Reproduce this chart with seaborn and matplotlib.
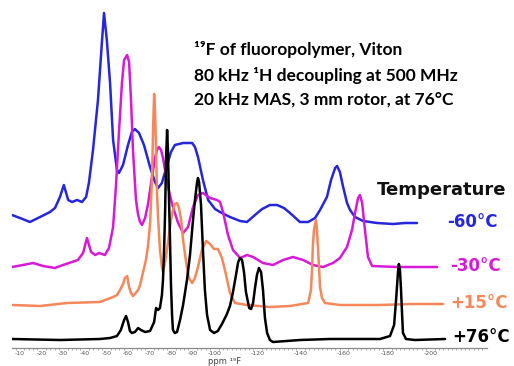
import numpy as np
import pandas as pd
import matplotlib
matplotlib.use("Agg")
import matplotlib.pyplot as plt
import seaborn as sns

# chemical shift (ppm, as labelled on the axis) and intensity above each trace's baseline
blue_ppm = [-6.3, -10.0, -14.6, -19.3, -23.9, -26.2, -28.5, -30.3, -32.3, -34.1, -36.4, -38.7,
            -40.6, -41.9, -43.8, -46.1, -48.0, -48.9, -50.2, -51.7, -53.1, -54.9, -55.8, -57.7,
            -60.0, -61.8, -63.2, -65.1, -67.4, -70.2, -72.5, -73.9, -75.7, -78.1, -79.9, -81.7,
            -85.5, -89.7, -91.0, -92.4, -94.7, -97.1, -100.3, -102.6, -107.2, -111.9, -115.1,
            -118.8, -122.1, -125.7, -129.0, -132.2, -135.0, -139.6, -143.4, -146.6, -148.9, -152.1,
            -154.0, -155.9, -156.8, -158.1, -159.5, -161.4, -162.8, -165.1, -168.8, -175.3, -182.7,
            -188.3, -193.8]
blue_int = [8, 5, 1, 6, 11, 15, 26, 38, 23, 21, 23, 21,
            26, 40, 73, 123, 183, 210, 183, 140, 83, 53, 50, 58,
            78, 91, 94, 90, 78, 56, 41, 35, 40, 58, 71, 78,
            80, 80, 76, 66, 43, 23, 14, 11, 6, 2, 1,
            8, 14, 18, 18, 15, 10, 1, 1, 5, 13, 26,
            43, 55, 57, 51, 37, 20, 13, 6, 2, 0, -1,
            0, 0]

magenta_ppm = [-6.3, -11.4, -16.0, -20.7, -26.2, -29.9, -34.1, -36.8, -39.2, -41.0, -42.9, -44.8,
               -46.6, -49.3, -51.2, -53.1, -54.4, -55.8, -57.2, -58.2, -59.6, -60.5, -61.4, -62.3,
               -63.7, -64.7, -65.6, -66.5, -67.9, -69.2, -71.1, -72.5, -73.4, -74.3, -75.3, -76.2,
               -78.5, -80.8, -83.2, -85.5, -87.8, -90.1, -92.4, -94.7, -98.0, -101.2, -102.6,
               -104.0, -106.3, -108.6, -111.9, -115.1, -117.9, -122.5, -127.1, -131.8, -136.4, -141.1,
               -145.6, -150.3, -154.9, -158.1, -161.4, -163.7, -165.1, -166.5, -167.4, -168.4, -169.7,
               -171.1, -173.0, -184.5, -195.2, -203.1]
magenta_int = [0, 2, 4, 1, -1, 2, 5, 7, 14, 29, 15, 12,
               14, 12, 19, 40, 80, 134, 184, 207, 212, 205, 167, 117,
               67, 52, 45, 42, 49, 62, 90, 109, 117, 120, 117, 109,
               80, 60, 44, 34, 40, 60, 72, 74, 69, 67, 65,
               55, 32, 17, 9, 12, 10, 4, 2, 7, 10, 7,
               2, 0, 4, 9, 20, 37, 54, 69, 72, 64, 37,
               10, 1, 0, 0, 0]

orange_ppm = [-6.3, -19.3, -31.8, -47.0, -53.1, -54.9, -56.3, -57.7, -58.6, -59.6, -60.5, -61.4,
              -62.3, -63.2, -64.7, -65.6, -66.9, -68.3, -69.2, -70.2, -71.1, -71.6, -72.1, -72.5,
              -73.0, -73.4, -73.9, -74.8, -75.7, -76.2, -77.2, -78.5, -79.9, -80.8, -81.7, -82.7,
              -83.6, -84.6, -85.5, -86.9, -88.2, -89.7, -91.0, -92.4, -94.2, -96.2, -98.0,
              -99.8, -101.6, -103.5, -105.4, -107.2, -109.5, -115.1, -125.7, -135.0, -143.4, -144.7,
              -145.2, -145.6, -146.1, -147.0, -147.5, -148.0, -148.5, -148.9, -149.8, -151.2, -158.1,
              -176.7, -190.6, -205.9]
orange_int = [0, -1, 2, 3, 8, 10, 15, 21, 27, 29, 18, 12,
              9, 11, 15, 20, 32, 45, 58, 80, 125, 175, 211, 195,
              155, 115, 88, 55, 38, 33, 43, 62, 85, 95, 101, 102,
              97, 85, 65, 43, 27, 22, 27, 38, 55, 64, 61,
              56, 56, 47, 30, 12, 2, 0, -2, -1, 2, 15,
              35, 60, 75, 85, 75, 55, 35, 18, 7, 2, 0,
              0, 1, 1]

black_ppm = [-6.3, -28.5, -47.0, -51.7, -54.9, -56.7, -58.2, -59.1, -60.0, -60.9, -61.8, -63.2,
             -64.7, -66.0, -67.9, -70.2, -72.1, -73.0, -73.9, -74.8, -75.7, -76.2, -76.7, -77.2,
             -77.6, -78.1, -78.5, -79.0, -79.5, -79.9, -80.4, -80.8, -81.7, -82.7, -84.1,
             -85.5, -87.3, -88.7, -90.1, -91.0, -92.0, -92.4, -92.9, -93.3, -93.8, -94.7,
             -95.6, -96.6, -98.0, -99.8, -101.6, -103.5, -105.8, -107.2, -108.6, -110.0, -111.0,
             -111.9, -112.8, -113.7, -114.6, -116.1, -117.0, -117.9, -118.8, -119.7, -120.6, -121.6,
             -122.5, -123.4, -124.4, -125.7, -127.1, -139.6, -153.5, -176.7, -181.3, -183.2, -184.1,
             -185.0, -185.4, -185.9, -186.4, -186.9, -187.3, -188.7, -192.9, -206.8]
black_int = [0, -1, 0, 1, 3, 9, 19, 23, 17, 8, 6, 7,
             11, 9, 7, 8, 17, 31, 29, 31, 44, 59, 89, 129,
             179, 209, 189, 139, 94, 54, 24, 9, 6, 7, 19,
             34, 59, 84, 119, 139, 157, 161, 157, 147, 134, 89,
             49, 24, 9, 6, 8, 15, 25, 33, 47, 64, 77,
             81, 79, 67, 47, 31, 30, 36, 51, 64, 71, 67,
             49, 21, 6, -1, -3, -1, 0, 0, 3, 14, 39,
             67, 75, 69, 49, 24, 6, 0, -1, 0]

labels = ["-60°C", "-30°C", "+15°C", "+76°C"]
tick_values = [-10, -20, -30, -40, -50, -60, -70, -80, -90, -100, -120, -140, -160, -180, -200]
title_lines = ["¹⁹F of fluoropolymer, Viton",
               "80 kHz ¹H decoupling at 500 MHz",
               "20 kHz MAS, 3 mm rotor, at 76°C"]

colors = ["#2626dc", "#d81ad8", "#f5875a", "#000000"]
offsets = [125, 81, 43, 9]

sns.set_style("white")
plt.rcParams["font.family"] = ["DejaVu Sans"]

fig = plt.figure(figsize=(5.14, 3.66), dpi=100)
ax = fig.add_axes([12 / 514, 18 / 366, 475 / 514, 348 / 366])

traces = [(blue_ppm, blue_int), (magenta_ppm, magenta_int),
          (orange_ppm, orange_int), (black_ppm, black_int)]
for (ppm, inten), col, off in zip(traces, colors, offsets):
    df = pd.DataFrame({"ppm": ppm, "y": np.array(inten) + off})
    sns.lineplot(data=df, x="ppm", y="y", ax=ax, color=col, lw=1.8,
                 estimator=None, sort=False)

ax.set_xlim(-6.3, -226.2)
ax.set_ylim(0, 348)
ax.set_xlabel("")
ax.set_ylabel("")
for s in ["left", "right", "top"]:
    ax.spines[s].set_visible(False)
ax.spines["bottom"].set_color("#8a8a8a")
ax.spines["bottom"].set_linewidth(0.9)
ax.set_yticks([])
ax.set_xticks(tick_values)
ax.set_xticklabels([str(t) for t in tick_values])
ax.set_xticks(np.arange(-8, -226, -2), minor=True)
ax.tick_params(axis="x", which="major", length=1.5, width=0.6, color="#8a8a8a",
               labelsize=4.5, labelcolor="#555555", pad=1)
ax.tick_params(axis="x", which="minor", length=1.2, width=0.5, color="#8a8a8a", bottom=True)

fig.text(208 / 514, 0, "ppm ¹⁹F", fontsize=6, color="#444444", va="bottom")

for i, line in enumerate(title_lines):
    fig.text(194 / 514, 1 - (50 + 25 * i) / 366, line, fontsize=12.5, fontweight="bold",
             family=["Lato", "DejaVu Sans"], va="center", ha="left", color="black")

fig.text(377 / 514, 1 - 190 / 366, "Temperature", fontsize=13, fontweight="bold",
         va="center", ha="left", color="#111111")
label_pos = [(447, 222), (450, 266), (450, 303), (452, 337)]
for lab, col, (px, py) in zip(labels, colors, label_pos):
    fig.text(px / 514, 1 - py / 366, lab, fontsize=12, fontweight="bold",
             color=col, va="center", ha="left")

fig.savefig("out.png", dpi=100)
